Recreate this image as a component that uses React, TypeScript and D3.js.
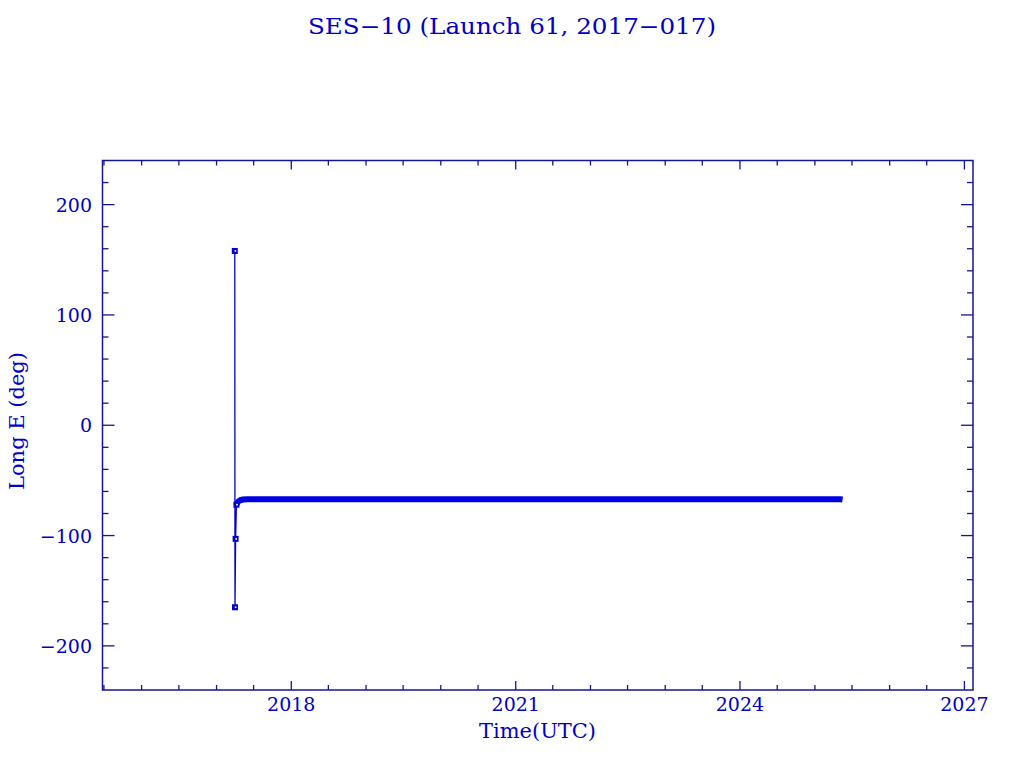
import React from "react";
import * as d3 from "d3";

// ---- Data ----
const titleText = "SES\u221210 (Launch 61, 2017\u2212017)";
const xLabelText = "Time(UTC)";
const yLabelText = "Long E (deg)";

// Transfer-orbit samples (markers + thin line)
const transferDates = ["2017-03-31", "2017-04-01", "2017-04-04", "2017-04-08"];
const transferValues = [158, -165, -103, -72];

// Drift into slot and station keeping (dense samples -> thick band)
const stationDates = [
  "2017-04-08", "2017-04-12", "2017-04-18", "2017-04-26", "2017-05-10", "2017-06-01",
  "2017-09-01", "2017-12-01", "2018-03-01", "2018-06-01", "2018-09-01", "2018-12-01",
  "2019-03-01", "2019-06-01", "2019-09-01", "2019-12-01", "2020-03-01", "2020-06-01",
  "2020-09-01", "2020-12-01", "2021-03-01", "2021-06-01", "2021-09-01", "2021-12-01",
  "2022-03-01", "2022-06-01", "2022-09-01", "2022-12-01", "2023-03-01", "2023-06-01",
  "2023-09-01", "2023-12-01", "2024-03-01", "2024-06-01", "2024-09-01", "2024-12-01",
  "2025-03-01", "2025-05-05", "2025-05-16",
];
const stationValues = [
  -72, -70.5, -69.0, -68.0, -67.3, -67.0,
  -67.0, -67.0, -67.0, -67.0, -67.0, -67.0,
  -67.0, -67.0, -67.0, -67.0, -67.0, -67.0,
  -67.0, -67.0, -67.0, -67.0, -67.0, -67.0,
  -67.0, -67.0, -67.0, -67.0, -67.0, -67.0,
  -67.0, -67.0, -67.0, -67.0, -67.0, -67.0,
  -67.0, -67.0, -67.3,
];

const xMajorYears = [2018, 2021, 2024, 2027];
const yMajorTicks = [-200, -100, 0, 100, 200];

const xDomain = [new Date(2015, 5, 24), new Date(2027, 1, 12)];
const yDomain = [-240, 240];

// ---- Layout / style ----
const W = 1024;
const H = 768;
const L = 102.5, R = 973, T = 160.5, B = 690;
const TEXT = "#0000c8";
const AXIS = "#141496";
const DATA = "#0000e6";
const MARK = "#0000c8";
const FONT = "'DejaVu Serif', 'Liberation Serif', serif";

export default function App() {
  const x = d3.scaleTime().domain(xDomain).range([L, R]);
  const y = d3.scaleLinear().domain(yDomain).range([B, T]);
  const parse = d3.timeParse("%Y-%m-%d");

  const transfer = transferDates.map((d, i) => ({ t: parse(d)!, v: transferValues[i] }));
  const station = stationDates.map((d, i) => ({ t: parse(d)!, v: stationValues[i] }));

  const line = d3
    .line<{ t: Date; v: number }>()
    .x((d) => x(d.t))
    .y((d) => y(d.v));

  const xMinor = d3.timeMonth.every(6)!.range(new Date(2015, 6, 1), new Date(2027, 1, 1));
  const yMinor = d3.range(-240, 241, 20).filter((v) => v % 100 !== 0 && v > -240 && v < 240);

  return (
    <svg
      width={W}
      height={H}
      style={{ position: "absolute", left: 0, top: 0, background: "#fff" }}
      fontFamily={FONT}
    >
      <rect x={0} y={0} width={W} height={H} fill="#fff" />
      <text x={512} y={34} textAnchor="middle" fill={TEXT} fontSize={22} textLength={408} lengthAdjust="spacingAndGlyphs">
        {titleText}
      </text>

      {/* frame */}
      <rect x={L} y={T} width={R - L} height={B - T} fill="none" stroke={AXIS} strokeWidth={1.5} />

      {/* y ticks */}
      {yMajorTicks.map((v) => (
        <g key={"ym" + v}>
          <line x1={L} x2={L + 12} y1={y(v)} y2={y(v)} stroke={AXIS} strokeWidth={1.3} />
          <line x1={R} x2={R - 12} y1={y(v)} y2={y(v)} stroke={AXIS} strokeWidth={1.3} />
          <text x={92} y={y(v) + 7} textAnchor="end" fill={TEXT} fontSize={19}>
            {v < 0 ? "\u2212" + Math.abs(v) : String(v)}
          </text>
        </g>
      ))}
      {yMinor.map((v) => (
        <g key={"yn" + v}>
          <line x1={L} x2={L + 6} y1={y(v)} y2={y(v)} stroke={AXIS} strokeWidth={1.3} />
          <line x1={R} x2={R - 6} y1={y(v)} y2={y(v)} stroke={AXIS} strokeWidth={1.3} />
        </g>
      ))}

      {/* x ticks */}
      {xMinor.map((d, i) => {
        const isMajor = d.getMonth() === 0 && xMajorYears.includes(d.getFullYear());
        const len = isMajor ? 9 : 5;
        return (
          <g key={"xm" + i}>
            <line x1={x(d)} x2={x(d)} y1={B} y2={B - len} stroke={AXIS} strokeWidth={1.3} />
            <line x1={x(d)} x2={x(d)} y1={T} y2={T + len} stroke={AXIS} strokeWidth={1.3} />
          </g>
        );
      })}
      {xMajorYears.map((yr) => (
        <text key={"xl" + yr} x={x(new Date(yr, 0, 1))} y={711} textAnchor="middle" fill={TEXT} fontSize={19}>
          {yr}
        </text>
      ))}

      {/* axis titles */}
      <text x={537.5} y={738} textAnchor="middle" fill={TEXT} fontSize={21} textLength={117} lengthAdjust="spacingAndGlyphs">
        {xLabelText}
      </text>
      <text
        transform={`translate(24, ${421}) rotate(-90)`}
        textAnchor="middle"
        fill={TEXT}
        fontSize={21}
        textLength={138}
        lengthAdjust="spacingAndGlyphs"
      >
        {yLabelText}
      </text>

      {/* data */}
      <path d={line(transfer) ?? ""} fill="none" stroke={MARK} strokeWidth={1.3} />
      <path d={line(station) ?? ""} fill="none" stroke={DATA} strokeWidth={6} strokeLinejoin="round" />
      {transfer.map((d, i) => (
        <g key={"mk" + i}>
          <rect x={x(d.t) - 3} y={y(d.v) - 3} width={6} height={6} fill={MARK} />
          <rect x={x(d.t) - 0.2} y={y(d.v) - 0.8} width={1.6} height={1.6} fill="#fff" />
        </g>
      ))}
    </svg>
  );
}
